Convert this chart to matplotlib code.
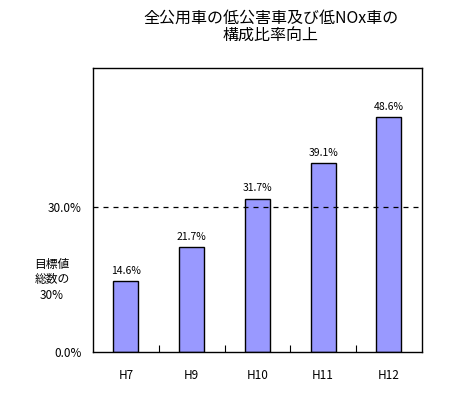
import matplotlib
matplotlib.use('Agg')
import matplotlib.pyplot as plt

plt.rcParams['font.family'] = ['Noto Sans CJK JP', 'DejaVu Sans']

years = ['H7', 'H9', 'H10', 'H11', 'H12']
ratios = [14.6, 21.7, 31.7, 39.1, 48.6]
target = 30.0
title_text = '全公用車の低公害車及び低NOx車の\n構成比率向上'
target_note = '目標値\n総数の\n30%'

fig = plt.figure(figsize=(4.56, 3.94), dpi=100)
ax = fig.add_axes([0.204, 0.1066, 0.721, 0.7208])

x = range(len(years))
bars = ax.bar(x, ratios, width=0.38, color='#9999FF', edgecolor='black', linewidth=1)
for i, v in enumerate(ratios):
    ax.annotate('%.1f%%' % v, (i, v), xytext=(0, 4), textcoords='offset points',
                ha='center', va='bottom', fontsize=7.5)

ax.axhline(target, color='black', linestyle=(0, (4, 4)), linewidth=0.9)

ax.set_xlim(-0.5, len(years) - 0.5)
ax.set_ylim(0, 58.8)
ax.set_xticks(list(x))
ax.set_xticklabels(years, fontsize=8.5)
ax.set_xticks([i + 0.5 for i in range(len(years) - 1)], minor=True)
ax.tick_params(axis='x', which='major', length=0, pad=12)
ax.tick_params(axis='x', which='minor', direction='in', length=5, width=0.8)
ax.set_yticks([0, target])
ax.set_yticklabels(['0.0%', '30.0%'], fontsize=8.5)
ax.tick_params(axis='y', length=0, pad=8)
for s in ax.spines.values():
    s.set_linewidth(1)

fig.text(0.594, 0.93, title_text, ha='center', va='center', fontsize=11.5, linespacing=1.05)
fig.text(0.114, 0.29, target_note, ha='center', va='center', fontsize=8.5, linespacing=1.25)

fig.savefig('out.png', dpi=100)
